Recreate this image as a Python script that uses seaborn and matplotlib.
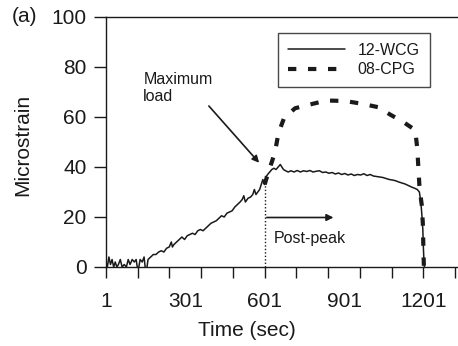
import matplotlib
matplotlib.use("Agg")
import matplotlib.pyplot as plt
import seaborn as sns
import pandas as pd

# 12-WCG strain readings (time in sec, microstrain)
wcg_time = [1, 6, 12, 18, 24, 30, 36, 42, 48, 55, 62, 70, 78, 85, 92, 100,
            108, 115, 122, 130, 138, 145, 152, 160, 170, 180, 190, 200, 210,
            220, 230, 240, 248, 252, 258, 268, 278, 288, 298, 308, 318, 328,
            338, 348, 358, 368, 378, 388, 398, 408, 418, 428, 438, 448, 458,
            468, 478, 488, 498, 508, 516, 522, 528, 538, 548, 556, 562, 568,
            575, 582, 588, 594, 600, 606, 612, 620, 628, 636, 644, 652, 660,
            666, 672, 680, 690, 700, 712, 724, 736, 748, 760, 772, 784, 796,
            808, 820, 832, 844, 856, 868, 880, 892, 904, 916, 928, 940, 952,
            964, 976, 988, 1000, 1012, 1024, 1036, 1048, 1060, 1072, 1084,
            1096, 1108, 1120, 1132, 1144, 1156, 1168, 1178, 1186, 1190, 1193,
            1196, 1199, 1201, 1203, 1205]
wcg_strain = [2, 0, 4, 1, 3, 0, 2, 0, 1, 3, 0, 1, 0, 3, 1, 3,
              2, 3, -2, 3, 2, 4, -3, 3, 4, 5, 5, 6, 6.5,
              6, 7.5, 8, 10, 8, 9, 10, 11, 12, 11, 12.5, 13, 13.5,
              13, 14.5, 15, 14.5, 15.5, 16.5, 17.5, 18, 18.5, 19.5, 20.5, 20, 21.5,
              22, 22.5, 24, 25, 26, 27, 28.5, 26, 27.5, 28, 29, 31, 29,
              30, 31, 33, 35, 33, 36, 37, 38, 39, 39.5, 39, 40, 41,
              40, 39, 38.5, 38, 38.5, 38, 38.6, 38, 38.5, 38.2, 38.6, 38, 38.3,
              38.5, 37.8, 38, 37.5, 37.8, 37.2, 37.6, 37, 37.4, 36.8, 37.2, 36.6, 37,
              36.8, 37.3, 36.6, 37, 36.4, 36.2, 36, 35.8, 35.4, 35, 34.8,
              34.5, 34, 33.6, 33.2, 32.6, 32, 31.5, 31, 30, 27, 24,
              20, 15, 8, 3, 0]

# 08-CPG strain readings after peak load
cpg_time = [601, 615, 628, 640, 653, 674, 716, 772, 835, 905, 974, 1031, 1075,
            1125, 1170, 1178, 1182, 1186, 1191, 1195, 1199, 1201, 1203]
cpg_strain = [33, 38, 42, 46, 53.5, 59.5, 63.5, 65, 66.6, 66.4, 65.2, 63.9, 61,
              58, 54.8, 47.5, 40, 32.7, 28, 24.7, 17.4, 8, 0]

tick_labels = ["1", "301", "601", "901", "1201"]

sns.set_style("ticks")
plt.rcParams["font.family"] = ["Liberation Sans", "DejaVu Sans"]
ink = "#1a1a1a"

fig = plt.figure(figsize=(4.58, 3.46), dpi=100)
ax = fig.add_axes([106 / 458, 79 / 346, 352 / 458, 250 / 346])

wcg_df = pd.DataFrame({"time": wcg_time, "strain": wcg_strain})
cpg_df = pd.DataFrame({"time": cpg_time, "strain": cpg_strain})

sns.lineplot(data=wcg_df, x="time", y="strain", ax=ax, color=ink, lw=1.1,
             estimator=None, sort=False, label="12-WCG")
sns.lineplot(data=cpg_df, x="time", y="strain", ax=ax, color=ink, lw=3,
             estimator=None, sort=False, label="08-CPG")
ax.lines[-1].set_dashes([2, 2.8])

ax.vlines(601, 0, 37, colors=ink, linestyles=(0, (1, 1.5)), lw=1)

ax.set_xlim(1, 1332)
ax.set_ylim(0, 100)
ax.set_yticks(range(0, 101, 20))
ax.xaxis.remove_overlapping_locs = False
ax.set_xticks(range(1, 1332, 120))
ax.set_xticklabels([])
ax.set_xticks([int(t) for t in tick_labels], minor=True)
ax.set_xticklabels(tick_labels, minor=True)
ax.tick_params(axis="x", which="major", length=8, width=1, color=ink)
ax.tick_params(axis="x", which="minor", length=0, pad=18, labelsize=15,
               labelcolor=ink)
ax.tick_params(axis="y", length=9, width=1, color=ink, pad=5, labelsize=15,
               labelcolor=ink)

for side in ["left", "bottom", "top"]:
    ax.spines[side].set_color(ink)
    ax.spines[side].set_linewidth(1)
ax.spines["right"].set_visible(False)

ax.set_xlabel("Time (sec)", fontsize=15, color=ink)
ax.set_ylabel("Microstrain", fontsize=15, color=ink)
ax.xaxis.set_label_coords(0.40, -0.215)
ax.yaxis.set_label_coords(-0.21, 0.49)

# annotations
ax.text(142, 71.7, "Maximum\nload", fontsize=11.5, color=ink, va="center",
        ha="left", linespacing=1.2)
ax.annotate("", xy=(580, 41.7), xytext=(390, 64.4),
            arrowprops=dict(arrowstyle="-|>", color=ink, lw=1.2,
                            mutation_scale=10, shrinkA=0, shrinkB=0))
ax.annotate("", xy=(861, 19.8), xytext=(609, 19.8),
            arrowprops=dict(arrowstyle="-|>", color=ink, lw=1.2,
                            mutation_scale=10, shrinkA=0, shrinkB=0))
ax.text(634, 11.4, "Post-peak", fontsize=11.5, color=ink, va="center",
        ha="left")

leg = ax.legend(loc="upper left", bbox_to_anchor=(172 / 352, 234 / 250),
                frameon=True, fancybox=False, fontsize=11.5, handlelength=3.6,
                labelspacing=0.3, borderpad=0.6, handletextpad=0.8,
                borderaxespad=0)
leg.get_frame().set_edgecolor(ink)
leg.get_frame().set_linewidth(1)
for txt in leg.get_texts():
    txt.set_color(ink)

fig.text(12 / 458, 1 - 17 / 346, "(a)", fontsize=15, color=ink, va="center",
         ha="left")

fig.savefig("out.png", dpi=100)
